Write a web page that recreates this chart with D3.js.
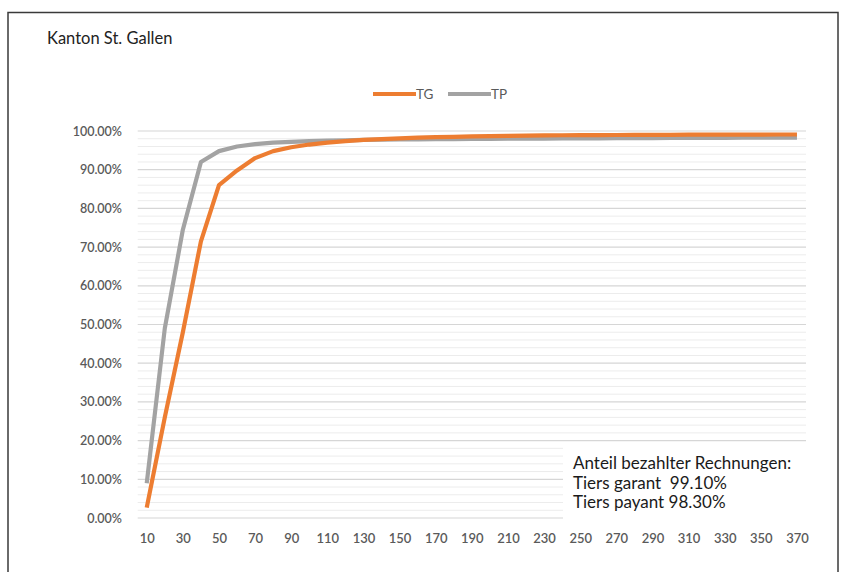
<!DOCTYPE html>
<html>
<head>
<meta charset="utf-8">
<script src="https://cdn.jsdelivr.net/npm/d3@7"></script>
<style>
  body { margin: 0; background: #fff; }
  text { font-family: Lato, "Liberation Sans", sans-serif; }
</style>
</head>
<body>
<div id="chart"></div>
<script>
// days after invoice (category axis)
const categories = d3.range(10, 371, 10);
// share of paid invoices, percent
const tgValues = [2.7, 26, 48, 71.5, 86, 89.8, 93, 94.8, 95.8, 96.5, 97.0, 97.4, 97.7, 97.9, 98.1, 98.3,
  98.4, 98.5, 98.6, 98.7, 98.75, 98.8, 98.85, 98.9, 98.92, 98.95, 98.97, 99.0, 99.0, 99.02, 99.04,
  99.05, 99.06, 99.07, 99.08, 99.09, 99.1];
const tpValues = [9, 49, 74.5, 92, 94.8, 96.0, 96.6, 97.0, 97.2, 97.4, 97.5, 97.6, 97.7, 97.75, 97.8,
  97.85, 97.9, 97.92, 97.95, 97.98, 98.0, 98.02, 98.05, 98.07, 98.1, 98.12, 98.14, 98.16, 98.18,
  98.2, 98.21, 98.22, 98.24, 98.25, 98.27, 98.28, 98.3];
const seriesNames = ["TG", "TP"];
const yTicks = d3.range(0, 101, 10);
const xTickLabels = categories.filter((d, i) => i % 2 === 0);
const noteLines = ["Anteil bezahlter Rechnungen:", "Tiers garant  99.10%", "Tiers payant 98.30%"];

const width = 848, height = 572;
const colors = { TG: "#ED7D31", TP: "#A3A3A3" };

const svg = d3.select("#chart").append("svg")
  .attr("width", width)
  .attr("height", height);

// frame
svg.append("rect")
  .attr("x", 8).attr("y", 12.5)
  .attr("width", 830).attr("height", 600)
  .attr("fill", "none")
  .attr("stroke", "#3a3a3a")
  .attr("stroke-width", 1.5);

svg.append("text")
  .attr("x", 47).attr("y", 44)
  .attr("font-size", 16.5)
  .attr("fill", "#222")
  .text("Kanton St. Gallen");

const x = d3.scalePoint()
  .domain(categories)
  .range([137.7, 806])
  .padding(0.5);

const y = d3.scaleLinear()
  .domain([0, 100])
  .range([518, 131]);

// minor grid
svg.append("g")
  .selectAll("line")
  .data(d3.range(0, 101, 2).filter(d => d % 10 !== 0))
  .join("line")
  .attr("x1", 137.7).attr("x2", 806)
  .attr("y1", d => y(d)).attr("y2", d => y(d))
  .attr("stroke", "#ececec")
  .attr("stroke-width", 1);

// major grid
svg.append("g")
  .selectAll("line")
  .data(yTicks)
  .join("line")
  .attr("x1", 137.7).attr("x2", 806)
  .attr("y1", d => y(d)).attr("y2", d => y(d))
  .attr("stroke", "#d6d6d6")
  .attr("stroke-width", 1.2);

// y axis labels
const yAxis = svg.append("g")
  .attr("transform", "translate(122,0)")
  .call(d3.axisLeft(y).tickValues(yTicks).tickSize(0).tickPadding(0)
    .tickFormat(d => d.toFixed(2) + "%"));
yAxis.select(".domain").remove();
yAxis.selectAll("text")
  .attr("font-size", 12.5)
  .attr("font-family", "Lato, sans-serif")
  .attr("font-weight", 600)
  .attr("fill", "#5a5a5a");

// x axis labels
const xAxis = svg.append("g")
  .attr("transform", "translate(0,534)")
  .call(d3.axisBottom(x).tickValues(xTickLabels).tickSize(0).tickPadding(0));
xAxis.select(".domain").remove();
xAxis.selectAll("text")
  .attr("font-size", 13)
  .attr("font-family", "Lato, sans-serif")
  .attr("font-weight", 600)
  .attr("fill", "#5a5a5a");

const line = d3.line()
  .x((d, i) => x(categories[i]))
  .y(d => y(d));

// TP drawn first, TG on top
[["TP", tpValues], ["TG", tgValues]].forEach(([name, vals]) => {
  svg.append("path")
    .datum(vals)
    .attr("d", line)
    .attr("fill", "none")
    .attr("stroke", colors[name])
    .attr("stroke-width", 4.2)
    .attr("stroke-linejoin", "round");
});

// legend
const legend = svg.append("g");
seriesNames.forEach((name, i) => {
  const lx = 373 + i * 75;
  legend.append("line")
    .attr("x1", lx).attr("x2", lx + 43)
    .attr("y1", 94).attr("y2", 94)
    .attr("stroke", colors[name])
    .attr("stroke-width", 4.2);
  legend.append("text")
    .attr("x", lx + 43).attr("y", 99)
    .attr("font-size", 13.5)
    .attr("fill", "#5a5a5a")
    .text(name);
});

// annotation box
svg.append("rect")
  .attr("x", 563).attr("y", 444)
  .attr("width", 247).attr("height", 77)
  .attr("fill", "#fff");
svg.append("g")
  .selectAll("text")
  .data(noteLines)
  .join("text")
  .attr("x", 573)
  .attr("y", (d, i) => 469 + i * 19.5)
  .attr("font-size", 17)
  .attr("fill", "#1a1a1a")
  .style("white-space", "pre")
  .text(d => d);
</script>
</body>
</html>
